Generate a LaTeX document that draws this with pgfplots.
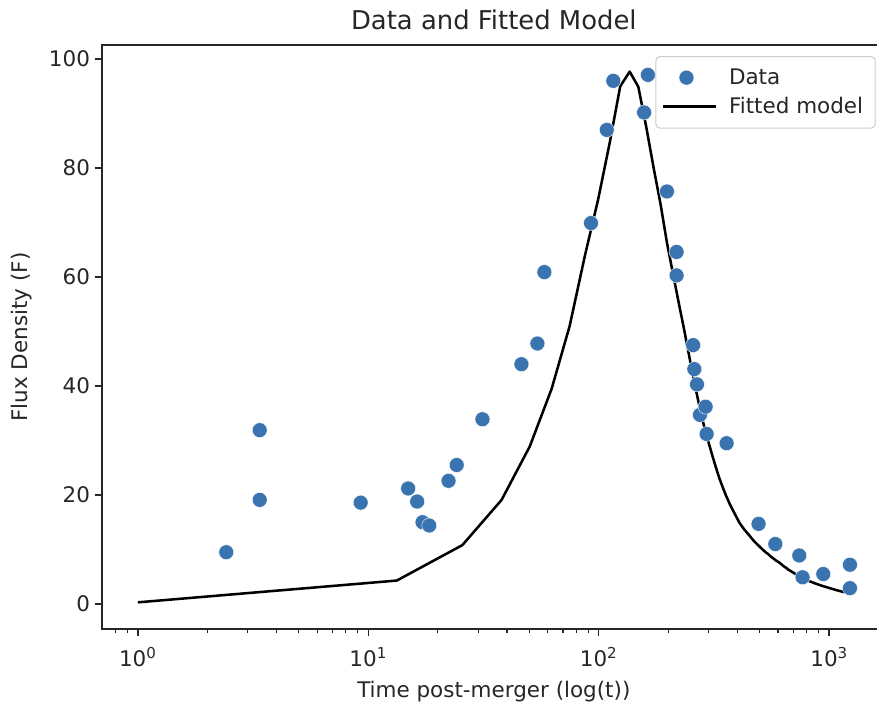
\documentclass[border=0pt]{standalone}
\usepackage{fontspec}
\setmainfont{DejaVu Sans}
\usepackage{pgfplots}
\usepackage{pgfplotstable}
\pgfplotsset{compat=1.18}

\definecolor{dotblue}{HTML}{3A74B0}
\definecolor{spine}{HTML}{262626}

% Legend samples: a 35pt wide cell, drawn 4.5pt further left
\pgfplotsset{
  fitline/.style={legend image code/.code={%
    \path (0pt,0pt) -- (35pt,0pt);
    \draw[#1, overlay] (-4.5pt,0pt) -- (30.5pt,0pt);}},
  dotmark/.style={legend image code/.code={%
    \path (0pt,0pt) -- (35pt,0pt);
    \path[#1, overlay] plot coordinates {(13pt,0pt)};}},
}

% Observed flux densities
\pgfplotstableread{
t F
2.42 9.5
3.38 31.9
3.38 19.1
9.27 18.6
14.9 21.2
16.3 18.8
17.2 15.0
18.4 14.4
22.3 22.6
24.2 25.5
31.3 33.9
46.2 44.0
54.2 47.8
58.1 60.9
92.6 69.9
108.4 87.0
115.7 96.0
157.4 90.2
163.5 97.1
197.8 75.7
217.8 64.6
217.8 60.3
257 47.5
260 43.1
267 40.3
275 34.7
291 36.2
294 31.2
359 29.5
494 14.7
584 11.0
742 8.9
767 4.9
943 5.5
1231 7.2
1231 2.9
}\obsdata

% Fitted light curve sampled on an even time grid
\pgfplotstableread{
t F
1 0.3
13.3 4.3
25.6 10.8
37.9 19.1
50.2 28.9
62.5 39.5
74.8 51.0
87.1 63.9
99.4 74.2
111.7 84.7
124.0 95.0
136.3 97.7
148.6 94.9
160.9 87.5
173.2 80.0
185.5 73.4
197.8 66.3
210.1 60.6
222.4 55.3
234.7 50.4
247.0 45.5
259.3 40.9
271.6 36.9
283.9 33.3
296.2 30.4
308.5 27.8
320.8 25.4
333.1 23.2
345.4 21.4
357.7 19.8
370.0 18.4
382.3 17.2
394.6 16.1
406.9 15.0
419.2 14.2
431.5 13.5
443.8 12.9
456.1 12.3
468.4 11.7
480.7 11.2
493.0 10.75
505.3 10.3
517.6 9.9
529.9 9.5
542.2 9.2
554.5 8.8
566.8 8.5
579.1 8.2
591.4 7.9
603.7 7.7
616.0 7.4
628.3 7.1
640.6 6.8
652.9 6.6
665.2 6.3
677.5 6.1
689.8 5.9
702.1 5.7
714.4 5.5
726.7 5.3
739.0 5.1
751.3 5.0
763.6 4.8
775.9 4.66
788.2 4.5
800.5 4.4
812.8 4.26
825.1 4.15
837.4 4.05
849.7 3.94
862.0 3.84
874.3 3.74
886.6 3.65
898.9 3.56
911.2 3.48
923.5 3.39
935.8 3.32
948.1 3.23
960.4 3.17
972.7 3.10
985.0 3.02
997.3 2.96
1009.6 2.89
1021.9 2.82
1034.2 2.75
1046.5 2.69
1058.8 2.63
1071.1 2.56
1083.4 2.51
1095.7 2.45
1108.0 2.39
1120.3 2.34
1132.6 2.29
1144.9 2.24
1157.2 2.19
1169.5 2.14
1181.8 2.10
1194.1 2.06
1206.4 2.01
1218.7 1.97
1231.0 1.93
}\modeldata

\begin{document}
\begin{tikzpicture}
\path[use as bounding box] (-76.6pt,-60.8pt) rectangle (581.2pt,471.7pt);
\begin{axis}[
  xmode=log,
  scale only axis,
  width=587.6pt, height=437.9pt,
  xmin=0.7, xmax=1757,
  ymin=-4.57, ymax=102.57,
  axis line style={spine, line width=1.2pt},
  tick align=outside,
  tick style={spine, line width=1.1pt},
  major tick length=5.6pt,
  minor tick length=3.2pt,
  minor tick style={line width=0.8pt},
  xtick pos=lower, ytick pos=left,
  xtick={1,10,100,1000},
  xticklabels={10\textsuperscript{0},10\textsuperscript{1},10\textsuperscript{2},10\textsuperscript{3}},
  minor xtick={0.8,0.9,2,3,4,5,6,7,8,9,20,30,40,50,60,70,80,90,200,300,400,500,600,700,800,900},
  ytick={0,20,40,60,80,100},
  /pgf/number format/assume math mode=true,
  ticklabel style={font=\fontsize{16.1}{19}\selectfont, text=spine},
  xticklabel style={yshift=-4.5pt},
  label style={font=\fontsize{16.1}{19}\selectfont, text=spine},
  xlabel={Time post-merger (log(t))},
  ylabel={Flux Density (F)},
  xlabel style={at={(axis description cs:0.5,-0.108)}, anchor=center},
  ylabel style={at={(axis description cs:-0.1022,0.5)}, anchor=center, rotate=0},
  every axis title shift=0pt,
  title={Data and Fitted Model},
  title style={at={(axis description cs:0.5,1.0428)}, anchor=center, font=\fontsize{19.4}{23}\selectfont, text=spine},
  legend style={at={(axis description cs:0.9874,0.9812)}, anchor=north east,
    draw=black!20, line width=0.8pt, rounded corners=3pt, fill=white,
    font=\fontsize{16.1}{19}\selectfont, text=spine,
    nodes={inner sep=0pt},
    inner xsep=9pt, inner ysep=9.2pt, row sep=8.3pt, column sep=9pt},
  legend cell align=left,
]
\addplot[only marks, mark=*, mark size=5.6pt, draw=none,
  mark options={fill=dotblue, draw=white, line width=0.3pt}, dotmark]
  table[x=t, y=F] {\obsdata};
\addlegendentry{Data}
\addplot[black, line width=1.9pt, line join=round, mark=none, fitline]
  table[x=t, y=F] {\modeldata};
\addlegendentry{Fitted model}
\end{axis}
\end{tikzpicture}
\end{document}
